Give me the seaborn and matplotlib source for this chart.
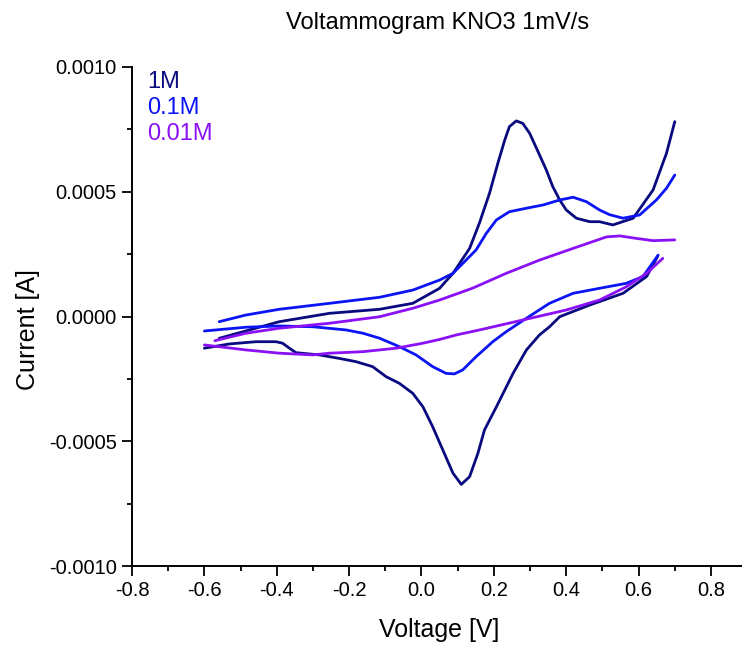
import numpy as np
import pandas as pd
import matplotlib
matplotlib.use("Agg")
import matplotlib.pyplot as plt
from matplotlib.ticker import MultipleLocator, FormatStrFormatter
import seaborn as sns

# Cyclic voltammetry of KNO3 solutions at 1 mV/s
# Each sweep split into the forward (anodic) and reverse (cathodic) branch.
labels = ["1M", "0.1M", "0.01M"]
colors = ["#0A0A80", "#0A14F5", "#8A10F5"]

# 1M
v_1m_fwd = [-0.559, -0.393, -0.254, -0.116, -0.024, 0.050, 0.087, 0.133, 0.160, 0.188,
            0.211, 0.230, 0.243, 0.262, 0.280, 0.299, 0.322, 0.345, 0.363, 0.382,
            0.400, 0.428, 0.465, 0.492, 0.529, 0.585, 0.640, 0.677, 0.700]
i_1m_fwd = [-0.0000874, -0.0000208, 0.0000128, 0.0000289, 0.0000529, 0.000113, 0.000173,
            0.000273, 0.000374, 0.000494, 0.000614, 0.000707, 0.000761, 0.000784, 0.000774,
            0.000734, 0.000661, 0.000587, 0.000520, 0.000467, 0.000427, 0.000394, 0.000380,
            0.000380, 0.000367, 0.000394, 0.000507, 0.000654, 0.000781]
v_1m_rev = [0.653, 0.622, 0.557, 0.465, 0.382, 0.354, 0.326, 0.290, 0.253, 0.207,
            0.174, 0.156, 0.133, 0.110, 0.087, 0.059, 0.031, 0.004, -0.024, -0.061,
            -0.098, -0.135, -0.181, -0.227, -0.282, -0.347, -0.365, -0.384, -0.402,
            -0.457, -0.531, -0.600]
i_1m_rev = [0.000242, 0.000160, 0.000093, 0.000046, -0.0000008, -0.000041, -0.000074,
            -0.000134, -0.000228, -0.000362, -0.000455, -0.000548, -0.000642, -0.000673,
            -0.000628, -0.000535, -0.000442, -0.000362, -0.000308, -0.000268, -0.000241,
            -0.000201, -0.000181, -0.000168, -0.000154, -0.000145, -0.000127, -0.000107,
            -0.000101, -0.000101, -0.000110, -0.000127]

# 0.1M
v_01m_fwd = [-0.559, -0.485, -0.393, -0.254, -0.116, -0.024, 0.050, 0.087, 0.151, 0.179,
             0.207, 0.243, 0.290, 0.336, 0.382, 0.419, 0.456, 0.492, 0.520, 0.557,
             0.603, 0.649, 0.677, 0.700]
i_01m_fwd = [-0.0000208, 0.000006, 0.0000289, 0.0000529, 0.000077, 0.000106, 0.000146,
             0.000173, 0.000267, 0.000333, 0.000387, 0.000420, 0.000434, 0.000447,
             0.000467, 0.000478, 0.000460, 0.000427, 0.000408, 0.000394, 0.000407,
             0.000467, 0.000514, 0.000567]
v_01m_rev = [0.654, 0.612, 0.566, 0.492, 0.419, 0.354, 0.290, 0.234, 0.197, 0.151,
             0.114, 0.091, 0.068, 0.031, -0.015, -0.061, -0.116, -0.162, -0.208,
             -0.301, -0.393, -0.485, -0.600]
i_01m_rev = [0.000246, 0.000160, 0.000133, 0.000113, 0.000093, 0.000053, -0.000007,
             -0.000061, -0.000101, -0.000161, -0.000214, -0.000230, -0.000228, -0.000201,
             -0.000154, -0.000121, -0.000087, -0.000067, -0.000054, -0.000041, -0.000038,
             -0.000043, -0.000058]

# 0.01M
v_001m_fwd = [-0.571, -0.485, -0.393, -0.254, -0.116, -0.024, 0.050, 0.142, 0.234, 0.326,
              0.419, 0.511, 0.548, 0.594, 0.640, 0.700]
i_001m_fwd = [-0.000097, -0.000067, -0.000047, -0.000027, -0.000001, 0.000033, 0.000066,
              0.000114, 0.000173, 0.000226, 0.000273, 0.000319, 0.000323, 0.000313,
              0.000304, 0.000307]
v_001m_rev = [0.667, 0.622, 0.566, 0.492, 0.400, 0.280, 0.160, 0.096, 0.050, 0.004,
              -0.070, -0.162, -0.254, -0.301, -0.393, -0.485, -0.600]
i_001m_rev = [0.000233, 0.000173, 0.000119, 0.000066, 0.000026, -0.000014, -0.000054,
              -0.000074, -0.000092, -0.000107, -0.000127, -0.000141, -0.000147, -0.000154,
              -0.000147, -0.000134, -0.000114]

x_ticks = [-0.8, -0.6, -0.4, -0.2, 0.0, 0.2, 0.4, 0.6, 0.8]
y_ticks = [-0.0010, -0.0005, 0.0000, 0.0005, 0.0010]

sweeps = {
    "1M": [(v_1m_fwd, i_1m_fwd), (v_1m_rev, i_1m_rev)],
    "0.1M": [(v_01m_fwd, i_01m_fwd), (v_01m_rev, i_01m_rev)],
    "0.01M": [(v_001m_fwd, i_001m_fwd), (v_001m_rev, i_001m_rev)],
}

sns.set_style("ticks")
plt.rcParams["font.family"] = ["Liberation Sans", "DejaVu Sans"]
plt.rcParams["axes.unicode_minus"] = False
for key in ("text.color", "axes.labelcolor", "xtick.color", "ytick.color",
            "axes.edgecolor"):
    plt.rcParams[key] = "black"

W, H = 742, 645
fig = plt.figure(figsize=(W / 100, H / 100), dpi=100)
ax = fig.add_axes([132 / W, 1 - 566 / H, (W - 132) / W, (566 - 67) / H])

for label, color in zip(labels, colors):
    for k, (v, i) in enumerate(sweeps[label]):
        df = pd.DataFrame({"V": v, "I": i})
        sns.lineplot(data=df, x="V", y="I", sort=False, estimator=None, color=color,
                     lw=2.0, ax=ax, label=label if k == 0 else None,
                     solid_joinstyle="round", solid_capstyle="round")

ax.set_xlim(-0.8, 0.8 + 31 / 361.5)
ax.set_ylim(-0.0010, 0.0010)
ax.set_xticks(x_ticks)
ax.set_yticks(y_ticks)
ax.xaxis.set_minor_locator(MultipleLocator(0.1))
ax.yaxis.set_minor_locator(MultipleLocator(0.00025))
ax.xaxis.set_major_formatter(FormatStrFormatter("%.1f"))
ax.yaxis.set_major_formatter(FormatStrFormatter("%.4f"))
ax.tick_params(which="major", direction="out", length=7, width=1.3, labelsize=14.5,
               color="black", labelcolor="black", pad=4)
ax.tick_params(which="minor", direction="out", length=3.6, width=1.3, color="black")
for side in ("top", "right"):
    ax.spines[side].set_visible(False)
for side in ("left", "bottom"):
    ax.spines[side].set_linewidth(1.4)
    ax.spines[side].set_color("black")
ax.set_xlabel("")
ax.set_ylabel("")

fig.text(439 / W, 1 - 630 / H, "Voltage [V]", ha="center", va="center", fontsize=18)
fig.text(28 / W, 1 - 330 / H, "Current [A]", ha="center", va="center", fontsize=18,
         rotation=90)
fig.text(438 / W, 1 - 23 / H, "Voltammogram KNO3 1mV/s", ha="center", va="center",
         fontsize=17)

leg = ax.legend(loc="upper left", bbox_to_anchor=(6 / (W - 132), 1.01),
                frameon=False, handlelength=0, handletextpad=0, fontsize=17,
                labelspacing=0.17, borderaxespad=0)
for txt, color in zip(leg.get_texts(), colors):
    txt.set_color(color)
for h in leg.legend_handles:
    h.set_visible(False)

fig.savefig("out.png", dpi=100)
